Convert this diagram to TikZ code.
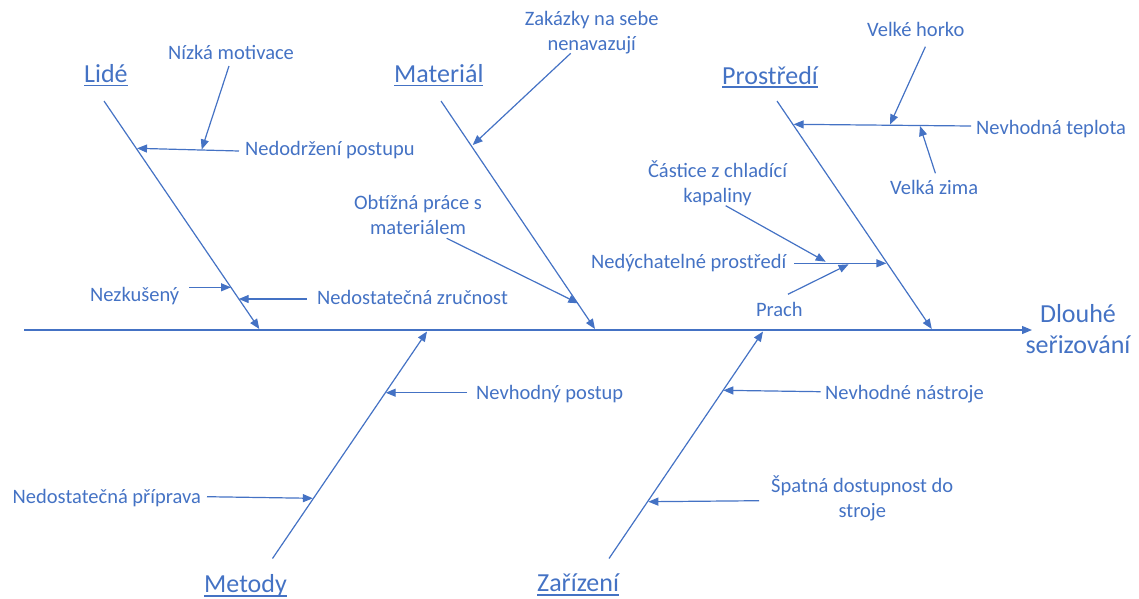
\documentclass[tikz,border=0pt]{standalone}
\usepackage{fontspec}
\setmainfont{Carlito}
\usetikzlibrary{arrows.meta}
\definecolor{fishblue}{HTML}{4472C4}
% underlined heading text
\newcommand\ulhead[1]{\setbox0=\hbox{#1}\rlap{\rule[-3.8pt]{\wd0}{1.5pt}}\box0}
\begin{document}
\begin{tikzpicture}[x=1pt,y=-1pt,
  every node/.style={text=fishblue, inner sep=0pt},
  lbl/.style={font=\fontsize{20.5}{24.8}\selectfont, align=center},
  ttl/.style={font=\fontsize{26}{31.5}\selectfont, align=center},
  arr/.style={draw=fishblue, line width=1.2pt, -{Triangle[length=10pt,width=8pt]}},
]
\useasboundingbox (0,0) rectangle (1139,598);

% ---- spine and effect (multi-line nodes: base = last line)
\coordinate (spA) at (24,330);
\coordinate (spB) at (1032,330);
\draw[arr] (spA) -- (spB);
\node[ttl, anchor=base] (effect) at (1078,353.5) {Dlouhé\\seřizování};

% ---- category headings
\node[ttl, anchor=base west] (lide) at (84,82.3) {\ulhead{Lidé}};
\node[ttl, anchor=base west] (mat) at (394,82.3) {\ulhead{Materiál}};
\node[ttl, anchor=base west] (pro) at (722,84) {\ulhead{Prostředí}};
\node[ttl, anchor=base west] (met) at (204,592.7) {\ulhead{Metody}};
\node[ttl, anchor=base west] (zar) at (537,591.7) {\ulhead{Zařízení}};

% ---- main bones
\coordinate (lideA) at (104,101);   \coordinate (lideB) at (259.3,329);
\coordinate (matA) at (441,101);    \coordinate (matB) at (595,329);
\coordinate (proA) at (777,101);    \coordinate (proB) at (931.8,329);
\coordinate (metA) at (272.5,558.5);\coordinate (metB) at (427,331.5);
\coordinate (zarA) at (609,558.5);  \coordinate (zarB) at (763,331.5);
\draw[arr] (lideA) -- (lideB);
\draw[arr] (matA) -- (matB);
\draw[arr] (proA) -- (proB);
\draw[arr] (metA) -- (metB);
\draw[arr] (zarA) -- (zarB);

% ---- cause labels
\node[lbl, anchor=base west] (nizka) at (168,59.3) {Nízká motivace};
\node[lbl, anchor=base west] (nedod) at (245,155) {Nedodržení postupu};
\node[lbl, anchor=base west] (nezk) at (90,301) {Nezkušený};
\node[lbl, anchor=base west] (zrucn) at (317,304.5) {Nedostatečná zručnost};
\node[lbl, anchor=base] (zakaz) at (591.7,50.4) {Zakázky na sebe\\nenavazují};
\node[lbl, anchor=base] (obtiz) at (418,234.3) {Obtížná práce s\\materiálem};
\node[lbl, anchor=base west] (horko) at (867,36) {Velké horko};
\node[lbl, anchor=base west] (teplota) at (976,134) {Nevhodná teplota};
\node[lbl, anchor=base west] (zima) at (890,194) {Velká zima};
\node[lbl, anchor=base] (castice) at (717.5,202) {Částice z chladící\\kapaliny};
\node[lbl, anchor=base west] (nedych) at (591,268) {Nedýchatelné prostředí};
\node[lbl, anchor=base] (prach) at (779.3,316) {Prach};
\node[lbl, anchor=base west] (postup) at (476,399) {Nevhodný postup};
\node[lbl, anchor=base west] (priprava) at (12.5,503) {Nedostatečná příprava};
\node[lbl, anchor=base west] (nastroje) at (825,399) {Nevhodné nástroje};
\node[lbl, anchor=base] (spatna) at (862.3,517.5) {Špatná dostupnost do\\stroje};

% ---- cause arrow ends
\coordinate (nizka-t) at (229,66);      \coordinate (nizka-h) at (201.7,149.5);
\coordinate (nedod-t) at (239,151);     \coordinate (nedod-h) at (137,148.3);
\coordinate (nezk-t) at (189,287.3);    \coordinate (nezk-h) at (231,287.3);
\coordinate (zrucn-t) at (306.7,299);   \coordinate (zrucn-h) at (238.7,299);
\coordinate (zakaz-t) at (570.7,53.3);  \coordinate (zakaz-h) at (472.7,145);
\coordinate (obtiz-t) at (446.7,238.3); \coordinate (obtiz-h) at (578.3,303.3);
\coordinate (horko-t) at (925.4,46.7);  \coordinate (horko-h) at (890,124.5);
\coordinate (teplota-t) at (971,126);   \coordinate (teplota-h) at (793.6,124.3);
\coordinate (zima-t) at (935.4,173.3);  \coordinate (zima-h) at (920,126);
\coordinate (castice-t) at (725.7,205.7); \coordinate (castice-h) at (825.7,261.7);
\coordinate (nedych-t) at (794.3,263.3);  \coordinate (nedych-h) at (886.4,263.3);
\coordinate (prach-t) at (787.9,294.3);   \coordinate (prach-h) at (848.6,264.3);
\coordinate (postup-t) at (467,392.7);    \coordinate (postup-h) at (385.7,392.7);
\coordinate (priprava-t) at (207,496.7);  \coordinate (priprava-h) at (312.9,498.3);
\coordinate (nastroje-t) at (820.7,391.7);\coordinate (nastroje-h) at (723.3,390.3);
\coordinate (spatna-t) at (759,500.7);    \coordinate (spatna-h) at (648.3,501.7);

\foreach \c in {nizka,nedod,nezk,zrucn,zakaz,obtiz,horko,teplota,zima,
                castice,nedych,prach,postup,priprava,nastroje,spatna}
  \draw[arr] (\c-t) -- (\c-h);
\end{tikzpicture}
\end{document}
